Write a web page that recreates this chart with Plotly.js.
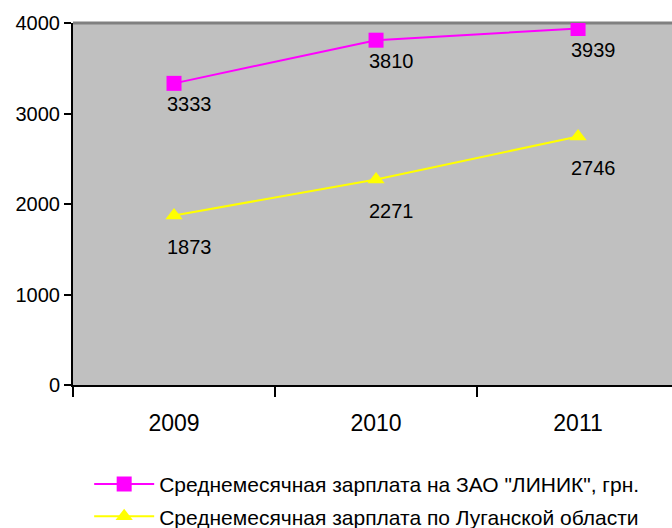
<!DOCTYPE html>
<html><head><meta charset="utf-8">
<script src="https://cdn.plot.ly/plotly-3.0.1.min.js"></script>
<style>html,body{margin:0;padding:0;background:#fff}#chart{width:672px;height:528px}</style>
</head><body><div id="chart"></div>
<script>
const years = ["2009", "2010", "2011"];
const liniK = [3333, 3810, 3939];
const lugansk = [1873, 2271, 2746];
const nameLinik = 'Среднемесячная зарплата на ЗАО "ЛИНИК", грн.';
const nameLugansk = 'Среднемесячная зарплата по Луганской области';
const yTicks = [0, 1000, 2000, 3000, 4000];

const font = "Arial, 'Liberation Sans', sans-serif";

const traces = [
  {x: years, y: liniK, name: nameLinik, type: 'scatter', mode: 'lines+markers',
   line: {color: '#FF00FF', width: 2}, marker: {symbol: 'square', size: 15, color: '#FF00FF'},
   legendgroup: 'a', hoverinfo: 'skip'},
  {x: years, y: lugansk, name: nameLugansk, type: 'scatter', mode: 'lines+markers',
   line: {color: '#FFFF00', width: 2}, marker: {symbol: 'triangle-up', size: 15, color: '#FFFF00'},
   legendgroup: 'b', hoverinfo: 'skip'}
];

const annotations = [];
years.forEach((yr, i) => {
  annotations.push({x: i, y: liniK[i], text: String(liniK[i]), showarrow: false,
    xanchor: 'left', yanchor: 'middle', xshift: -9, yshift: -21,
    font: {family: font, size: 20, color: '#000'}});
  annotations.push({x: i, y: lugansk[i], text: String(lugansk[i]), showarrow: false,
    xanchor: 'left', yanchor: 'middle', xshift: -9, yshift: -32,
    font: {family: font, size: 20, color: '#000'}});
});

const layout = {
  width: 672, height: 528,
  margin: {l: 73, r: 0, t: 23, b: 143, autoexpand: false},
  paper_bgcolor: '#FFFFFF',
  plot_bgcolor: '#C0C0C0',
  font: {family: font, size: 18, color: '#000'},
  showlegend: true,
  legend: {x: 0.027, y: -0.218,
    xanchor: 'left', yanchor: 'top', orientation: 'v',
    itemwidth: 60,
    font: {family: font, size: 21, color: '#000'}, tracegroupgap: 2, bgcolor: 'rgba(0,0,0,0)'},
  xaxis: {type: 'category', range: [-0.5, 2.465], tickson: 'boundaries',
    ticks: 'outside', ticklen: 10, tickwidth: 2, tickcolor: '#000', ticklabelstandoff: 16,
    showline: true, linecolor: '#000', linewidth: 2, showgrid: false, zeroline: false,
    tickfont: {family: font, size: 23, color: '#000'}, fixedrange: true},
  yaxis: {range: [0, 4000], tickvals: yTicks, ticktext: yTicks.map(String),
    ticks: 'outside', ticklen: 7, tickwidth: 2, tickcolor: '#000',
    showline: true, linecolor: '#000', linewidth: 2, showgrid: false, zeroline: false,
    tickfont: {family: font, size: 20, color: '#000'}, fixedrange: true},
  shapes: [{type: 'line', xref: 'paper', yref: 'paper', x0: 0, x1: 1, y0: 1, y1: 1,
    line: {color: '#808080', width: 3}, layer: 'below'}],
  annotations: annotations
};

Plotly.newPlot('chart', traces, layout, {displayModeBar: false, staticPlot: true});
</script></body></html>
